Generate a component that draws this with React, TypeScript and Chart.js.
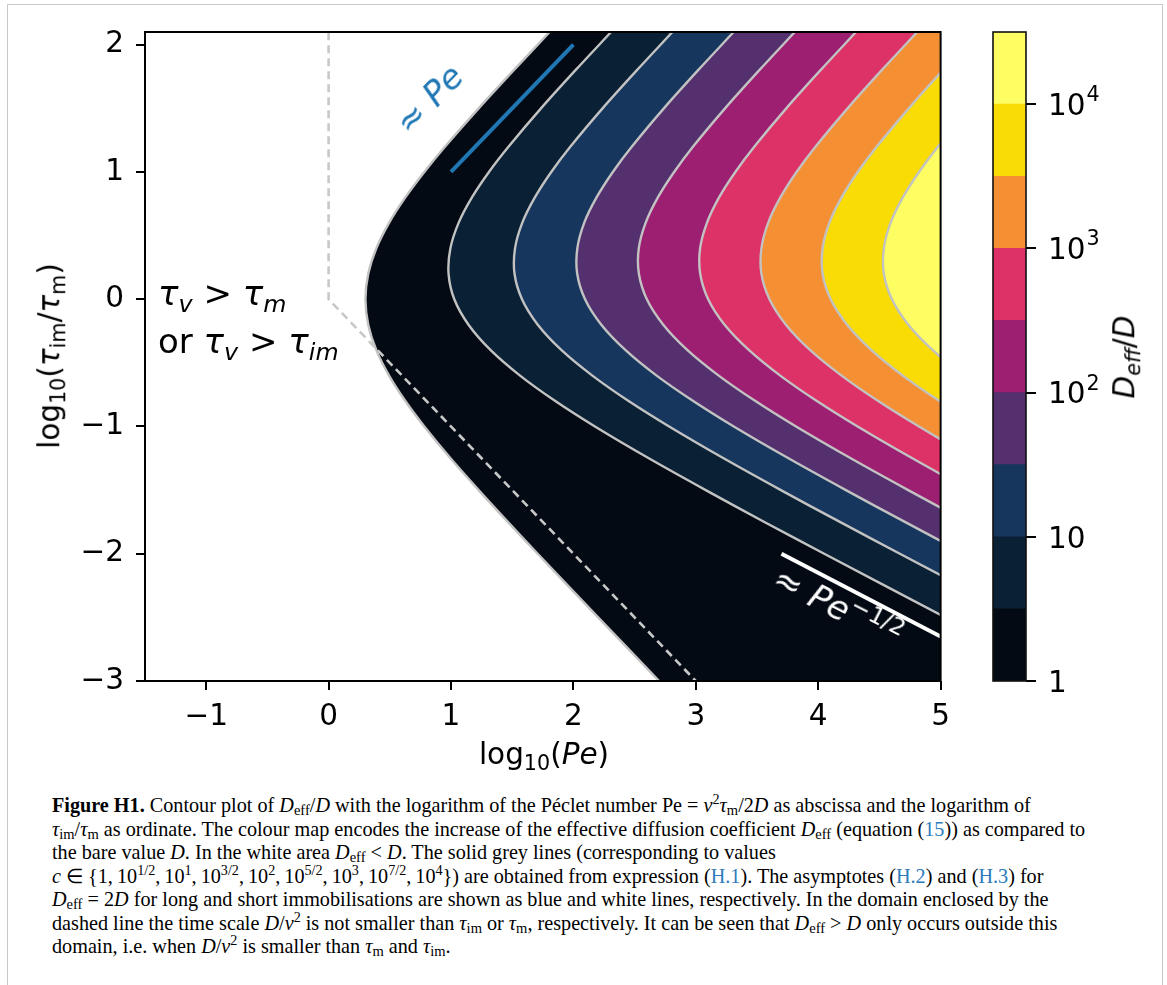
import React, { useEffect, useRef } from 'react';
import { Chart, registerables } from 'chart.js';

Chart.register(...registerables);

// ---------- axes ----------
const X_MIN = -1.5;
const X_MAX = 5;
const Y_MIN = -3;
const Y_MAX = 2.1;
const X_TICKS = [-1, 0, 1, 2, 3, 4, 5];
const Y_TICKS = [-3, -2, -1, 0, 1, 2];

// ---------- contour levels c = 10^(k/2) and colours ----------
const LEVELS = [1, 3.162, 10, 31.62, 100, 316.2, 1000, 3162, 10000, 31623];
const LEVEL_COLORS = ['#040a13', '#0a2035', '#16365d', '#54306f', '#9c1f72', '#dc3267', '#f58f34', '#f9dc04', '#fefe62'];
const CB_TICKS = [1, 10, 100, 1000, 10000];
const CB_BASE = ['1', '10', '10', '10', '10'];
const CB_EXP = ['', '', '2', '3', '4'];

// ---------- contour lines: x = log10(Pe) at each y = log10(τim/τm) ----------
const CONTOUR_Y = [2.1, 1.8, 1.5, 1.2, 1.0, 0.8, 0.6, 0.4, 0.2, 0.0, -0.2, -0.4, -0.6, -0.8, -1.0, -1.25, -1.5, -1.75, -2.0, -2.5, -3.0];
const C0_X = [1.806, 1.513, 1.226, 0.952, 0.782, 0.627, 0.494, 0.390, 0.324, 0.301, 0.324, 0.390, 0.494, 0.627, 0.782, 0.996, 1.226, 1.464, 1.708, 2.202, 2.700];
const C1_X = [2.308, 2.017, 1.735, 1.471, 1.310, 1.171, 1.062, 0.995, 0.980, 1.027, 1.143, 1.324, 1.564, 1.852, 2.176, 2.616, 3.081, 3.560, 4.049, 5.039, 6.035];
const C2_X = [2.809, 2.519, 2.238, 1.976, 1.819, 1.685, 1.582, 1.523, 1.519, 1.580, 1.709, 1.903, 2.155, 2.451, 2.782, 3.227, 3.695, 4.177, 4.667, 5.657, 6.655];
const C3_X = [3.309, 3.019, 2.739, 2.478, 2.322, 2.189, 2.088, 2.032, 2.031, 2.095, 2.228, 2.426, 2.680, 2.979, 3.310, 3.757, 4.226, 4.708, 5.198, 6.189, null];
const C4_X = [3.809, 3.519, 3.239, 2.978, 2.823, 2.690, 2.590, 2.534, 2.535, 2.600, 2.734, 2.932, 3.187, 3.487, 3.819, 4.266, 4.735, 5.218, 5.708, null, null];
const C5_X = [4.309, 4.019, 3.739, 3.479, 3.323, 3.190, 3.091, 3.035, 3.036, 3.101, 3.235, 3.435, 3.690, 3.989, 4.322, 4.769, 5.238, 5.721, null, null, null];
const C6_X = [4.809, 4.519, 4.240, 3.979, 3.823, 3.691, 3.591, 3.536, 3.536, 3.602, 3.736, 3.935, 4.191, 4.490, 4.823, 5.270, 5.739, null, null, null, null];
const C7_X = [5.309, 5.019, 4.740, 4.479, 4.323, 4.191, 4.091, 4.036, 4.036, 4.102, 4.236, 4.435, 4.691, 4.991, 5.323, 5.770, null, null, null, null, null];
const C8_X = [5.809, 5.519, 5.240, 4.979, 4.823, 4.691, 4.591, 4.536, 4.536, 4.602, 4.736, 4.936, 5.191, 5.491, null, null, null, null, null, null, null];
const CONTOUR_X = [C0_X, C1_X, C2_X, C3_X, C4_X, C5_X, C6_X, C7_X, C8_X];

// ---------- extra lines ----------
const DASH_X = [0, 0, 3.2];
const DASH_Y = [2.2, 0, -3.2];
const PE_X = [1, 2];
const PE_Y = [1, 2];
const PEH_X = [3.7, 5.0];
const PEH_Y = [-2.0, -2.65];

const DV = '"DejaVu Sans", sans-serif';
const SERIF = '"Liberation Serif", "Times New Roman", serif';
const LINK = '#2b7bbd';
const FS = 29.5;

const fmt = (v: number) => String(v).replace('-', '\u2212');

function contourDatasets() {
  return CONTOUR_X.map((xs, k) => {
    const curve: { x: number; y: number }[] = [];
    CONTOUR_Y.forEach((y, i) => {
      const x = xs[i];
      if (x !== null && x !== undefined) curve.push({ x, y });
    });
    const n = curve.length;
    // continue the curve one step beyond each end (outside the plot), then close the region to its right
    const head = { x: 2 * curve[0].x - curve[1].x, y: 2 * curve[0].y - curve[1].y };
    const tail = { x: 2 * curve[n - 1].x - curve[n - 2].x, y: 2 * curve[n - 1].y - curve[n - 2].y };
    const pts = [
      head,
      ...curve,
      tail,
      { x: tail.x, y: Y_MIN - 3 },
      { x: X_MAX + 6, y: Y_MIN - 3 },
      { x: X_MAX + 6, y: Y_MAX + 3 },
      { x: head.x, y: Y_MAX + 3 },
    ];
    return {
      data: pts,
      indexAxis: 'y',
      fill: 'shape',
      backgroundColor: LEVEL_COLORS[k],
      borderColor: '#c2c2c2',
      borderWidth: 2.4,
      borderJoinStyle: 'round',
      pointRadius: 0,
      pointHitRadius: 0,
      tension: 0.3,
      capBezierPoints: false,
      clip: 0,
      order: 100 - k,
    };
  });
}

const zip = (xs: number[], ys: number[]) => xs.map((x, i) => ({ x, y: ys[i] }));

const framePlugin = {
  id: 'frame',
  afterDraw(chart: any) {
    const { ctx, chartArea: a } = chart;
    ctx.save();
    ctx.strokeStyle = '#000';
    ctx.lineWidth = 2;
    ctx.strokeRect(a.left, a.top, a.right - a.left, a.bottom - a.top);
    ctx.restore();
  },
};

const cbFramePlugin = {
  id: 'cbframe',
  afterDraw(chart: any) {
    const { ctx, chartArea: a } = chart;
    ctx.save();
    ctx.strokeStyle = '#111';
    ctx.lineWidth = 1.6;
    ctx.strokeRect(a.left, a.top, a.right - a.left, a.bottom - a.top);
    ctx.restore();
  },
};

const cbLabelPlugin = {
  id: 'cblabels',
  afterDraw(chart: any) {
    const { ctx } = chart;
    const scale = chart.scales.y;
    ctx.save();
    ctx.fillStyle = '#000';
    ctx.textAlign = 'left';
    ctx.textBaseline = 'alphabetic';
    CB_TICKS.forEach((v, i) => {
      const py = scale.getPixelForValue(v);
      const x0 = chart.chartArea.right + 22;
      const base = py + 0.3645 * FS;
      ctx.font = `${FS}px "DejaVu Sans"`;
      ctx.fillText(CB_BASE[i], x0, base);
      if (CB_EXP[i]) {
        const w = ctx.measureText(CB_BASE[i]).width;
        ctx.font = `${FS * 0.7}px "DejaVu Sans"`;
        ctx.fillText(CB_EXP[i], x0 + w + 1, base - 13.7);
      }
    });
    ctx.restore();
  },
};

const tickFont = { family: 'DejaVu Sans', size: FS };
const gridOpts = { display: true, drawOnChartArea: false, drawTicks: true, tickLength: 9, color: '#000', lineWidth: 2 };

function mainConfig(): any {
  return {
    type: 'line',
    data: {
      datasets: [
        ...contourDatasets(),
        {
          data: zip(DASH_X, DASH_Y),
          borderColor: '#c8c8c8',
          borderWidth: 2.6,
          borderDash: [8, 5],
          pointRadius: 0,
          fill: false,
          tension: 0,
          clip: 0,
          order: 2,
        },
        {
          data: zip(PE_X, PE_Y),
          borderColor: '#1f77b4',
          borderWidth: 4,
          pointRadius: 0,
          fill: false,
          tension: 0,
          clip: 0,
          order: 1,
        },
        {
          data: zip(PEH_X, PEH_Y),
          borderColor: '#ffffff',
          borderWidth: 4,
          pointRadius: 0,
          fill: false,
          tension: 0,
          clip: 0,
          order: 1,
        },
      ],
    },
    options: {
      responsive: false,
      animation: false,
      events: [],
      layout: { padding: { left: 0, right: 17, top: 32, bottom: 0 } },
      plugins: {
        legend: { display: false },
        tooltip: { enabled: false },
        filler: { drawTime: 'beforeDatasetsDraw' },
      },
      scales: {
        x: {
          type: 'linear',
          position: 'bottom',
          min: X_MIN,
          max: X_MAX,
          afterBuildTicks: (ax: any) => { ax.ticks = X_TICKS.map((value) => ({ value })); },
          afterFit: (s: any) => { s.height = 79; },
          grid: gridOpts,
          border: { display: false },
          ticks: { font: tickFont, color: '#000', padding: 10, maxRotation: 0, autoSkip: false, callback: (v: number) => fmt(v) },
        },
        y: {
          type: 'linear',
          position: 'left',
          min: Y_MIN,
          max: Y_MAX,
          afterBuildTicks: (ax: any) => { ax.ticks = Y_TICKS.map((value) => ({ value })); },
          afterFit: (s: any) => { s.width = 145; },
          grid: gridOpts,
          border: { display: false },
          ticks: { font: tickFont, color: '#000', padding: 12, autoSkip: false, callback: (v: number) => fmt(v) },
        },
      },
    },
    plugins: [framePlugin],
  };
}

function cbConfig(): any {
  return {
    type: 'bar',
    data: {
      labels: [''],
      datasets: LEVEL_COLORS.map((c, k) => ({
        data: [[LEVELS[k], LEVELS[k + 1]]],
        backgroundColor: c,
        borderWidth: 0,
        grouped: false,
        barPercentage: 1,
        categoryPercentage: 1,
      })),
    },
    options: {
      responsive: false,
      animation: false,
      events: [],
      layout: { padding: { left: 33, right: 0, top: 32, bottom: 79 } },
      plugins: { legend: { display: false }, tooltip: { enabled: false } },
      scales: {
        x: { display: false },
        y: {
          type: 'logarithmic',
          position: 'right',
          min: LEVELS[0],
          max: LEVELS[9],
          afterBuildTicks: (ax: any) => { ax.ticks = CB_TICKS.map((value) => ({ value })); },
          afterFit: (s: any) => { s.width = 141; },
          ticks: { display: false },
          grid: { display: true, drawOnChartArea: false, drawTicks: true, tickLength: 10, color: '#000', lineWidth: 2 },
          border: { display: false },
        },
      },
    },
    plugins: [cbFramePlugin, cbLabelPlugin],
  };
}

// ---------- text helpers ----------
function At({ x, base, size, font = DV, color = '#000', center = false, children }: any) {
  const k = font === SERIF ? 0.8375 : 0.846;
  return (
    <div
      style={{
        position: 'absolute', left: x, top: base - k * size, fontSize: size, lineHeight: 1,
        fontFamily: font, color, whiteSpace: 'nowrap', transform: center ? 'translateX(-50%)' : undefined,
      }}
    >
      {children}
    </div>
  );
}

function Rot({ cx, cy, deg, size, color = '#000', children }: any) {
  return (
    <div
      style={{
        position: 'absolute', left: cx, top: cy, fontSize: size, lineHeight: 1, fontFamily: DV, color,
        whiteSpace: 'nowrap', transform: `translate(-50%, -50%) rotate(${deg}deg)`,
      }}
    >
      {children}
    </div>
  );
}

const Sb = ({ children, it = false, dy = 0.3 }: any) => (
  <span style={{ fontSize: '0.7em', position: 'relative', top: `${dy}em`, fontStyle: it ? 'italic' : 'normal' }}>{children}</span>
);
const Sp = ({ children, dy = -0.6 }: any) => (
  <span style={{ fontSize: '0.7em', position: 'relative', top: `${dy}em` }}>{children}</span>
);
const Cs = ({ children }: any) => (
  <span style={{ fontSize: '0.72em', position: 'relative', top: '0.22em', fontStyle: 'normal' }}>{children}</span>
);
const Cp = ({ children }: any) => (
  <span style={{ fontSize: '0.7em', position: 'relative', top: '-0.55em', fontStyle: 'normal' }}>{children}</span>
);
const L = ({ children }: any) => <span style={{ color: LINK }}>{children}</span>;

const CAP_BASE = 812;
const CAP_STEP = 23.5;
const CAP_SIZE = 20.2;
const CAP_X = 52;

export default function App() {
  const mainRef = useRef<HTMLCanvasElement>(null);
  const cbRef = useRef<HTMLCanvasElement>(null);

  useEffect(() => {
    const main = new Chart(mainRef.current as HTMLCanvasElement, mainConfig());
    const cb = new Chart(cbRef.current as HTMLCanvasElement, cbConfig());
    return () => {
      main.destroy();
      cb.destroy();
    };
  }, []);

  const th = '\u2009';
  const capLines = [
    <><b>Figure H1.</b> Contour plot of <i>D</i><Cs>eff</Cs>/<i>D</i> with the logarithm of the Péclet number Pe = <i>v</i><Cp>2</Cp><i>τ</i><Cs>m</Cs>/2<i>D</i> as abscissa and the logarithm of</>,
    <><i>τ</i><Cs>im</Cs>/<i>τ</i><Cs>m</Cs> as ordinate. The colour map encodes the increase of the effective diffusion coefficient <i>D</i><Cs>eff</Cs> (equation (<L>15</L>)) as compared to</>,
    <>the bare value <i>D</i>. In the white area <i>D</i><Cs>eff</Cs> &lt; <i>D</i>. The solid grey lines (corresponding to values</>,
    <><i>c</i> ∈ {'{'}1,{th}10<Cp>1/2</Cp>,{th}10<Cp>1</Cp>,{th}10<Cp>3/2</Cp>,{th}10<Cp>2</Cp>,{th}10<Cp>5/2</Cp>,{th}10<Cp>3</Cp>,{th}10<Cp>7/2</Cp>,{th}10<Cp>4</Cp>{'}'}) are obtained from expression (<L>H.1</L>). The asymptotes (<L>H.2</L>) and (<L>H.3</L>) for</>,
    <><i>D</i><Cs>eff</Cs> = 2<i>D</i> for long and short immobilisations are shown as blue and white lines, respectively. In the domain enclosed by the</>,
    <>dashed line the time scale <i>D</i>/<i>v</i><Cp>2</Cp> is not smaller than <i>τ</i><Cs>im</Cs> or <i>τ</i><Cs>m</Cs>, respectively. It can be seen that <i>D</i><Cs>eff</Cs> &gt; <i>D</i> only occurs outside this</>,
    <>domain, i.e. when <i>D</i>/<i>v</i><Cp>2</Cp> is smaller than <i>τ</i><Cs>m</Cs> and <i>τ</i><Cs>im</Cs>.</>,
  ];

  return (
    <div style={{ position: 'absolute', left: 0, top: 0, width: 1167, height: 985, overflow: 'hidden', background: '#fff' }}>
      <div
        style={{
          position: 'absolute', left: 7, top: 4, width: 1154, height: 1000,
          borderTop: '1.5px solid #c8c8c8', borderLeft: '1.5px solid #c8c8c8', borderRight: '1.5px solid #c8c8c8',
        }}
      />
      <canvas ref={mainRef} width={960} height={760} style={{ position: 'absolute', left: 0, top: 0 }} />
      <canvas ref={cbRef} width={207} height={760} style={{ position: 'absolute', left: 960, top: 0 }} />

      {/* axis titles */}
      <At x={544} base={765} size={FS} center>
        log<Sb>10</Sb>(<i>Pe</i>)
      </At>
      <Rot cx={50} cy={356} deg={-90} size={FS}>
        log<Sb>10</Sb>(<i>τ</i><Sb>im</Sb>/<i>τ</i><Sb>m</Sb>)
      </Rot>
      <Rot cx={1125} cy={357} deg={-90} size={FS}>
        <i>D</i><Sb it>eff</Sb>/<i>D</i>
      </Rot>

      {/* annotations */}
      <At x={158} base={305} size={34}>
        <i>τ</i><Sb it>v</Sb> &gt; <i>τ</i><Sb it>m</Sb>
      </At>
      <At x={158} base={353} size={34}>
        or <i>τ</i><Sb it>v</Sb> &gt; <i>τ</i><Sb it>im</Sb>
      </At>
      <Rot cx={429} cy={99} deg={-45.7} size={34} color="#1f77b4">
        ≈ <i>Pe</i>
      </Rot>
      <Rot cx={838} cy={607} deg={27} size={34} color="#ffffff">
        ≈ <i>Pe</i><Sp>−1/2</Sp>
      </Rot>

      {/* caption */}
      {capLines.map((c, i) => (
        <At key={i} x={CAP_X} base={CAP_BASE + i * CAP_STEP} size={CAP_SIZE} font={SERIF}>
          {c}
        </At>
      ))}
    </div>
  );
}
